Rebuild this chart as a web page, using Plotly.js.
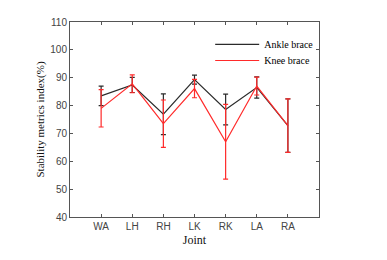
<!DOCTYPE html>
<html>
<head>
<meta charset="utf-8">
<script src="https://cdn.plot.ly/plotly-3.0.1.min.js"></script>
<style>html,body{margin:0;padding:0;background:#fff;}#chart{width:387px;height:260px;}</style>
</head>
<body>
<div id="chart"></div>
<script>
const joints = ["WA", "LH", "RH", "LK", "RK", "LA", "RA"];
const ankleMean = [83.5, 87.4, 76.9, 89.3, 78.6, 86.5, 72.8];
const ankleErr  = [3.5, 2.7, 7.3, 1.6, 5.5, 3.8, 9.6];
const kneeMean  = [79.0, 87.8, 73.5, 86.1, 67.0, 87.0, 72.8];
const kneeErr   = [6.7, 3.2, 8.5, 3.3, 13.4, 3.2, 9.6];
const yTicks = [40, 50, 60, 70, 80, 90, 100, 110];

const traces = [
  {
    x: joints, y: ankleMean, name: "Ankle brace", type: "scatter", mode: "lines", legend: "legend",
    line: {color: "#2b2b2b", width: 1.2},
    error_y: {type: "data", array: ankleErr, visible: true, color: "#2b2b2b", thickness: 1.2, width: 2.5}
  },
  {
    x: joints, y: kneeMean, name: "Knee brace", type: "scatter", mode: "lines", legend: "legend2",
    line: {color: "#ff2a2a", width: 1.2},
    error_y: {type: "data", array: kneeErr, visible: true, color: "#ff2a2a", thickness: 1.2, width: 2.5}
  }
];

const axisCommon = {
  showgrid: false, zeroline: false, showline: true, linecolor: "#555", linewidth: 1,
  mirror: "ticks", ticks: "inside", ticklen: 3, tickcolor: "#555", tickwidth: 1,
  tickfont: {family: "Liberation Sans, Arial, sans-serif", size: 10, color: "#444"}
};

const legendFont = {family: "Liberation Serif, Times New Roman, serif", size: 10, color: "#000"};

const layout = {
  width: 387, height: 260,
  margin: {l: 70, r: 68, t: 22, b: 43},
  paper_bgcolor: "#fff", plot_bgcolor: "#fff",
  showlegend: true,
  legend: {
    x: 0.563, y: 0.96, xanchor: "left", yanchor: "top",
    bgcolor: "rgba(0,0,0,0)", borderwidth: 0, itemwidth: 44, font: legendFont
  },
  legend2: {
    x: 0.563, y: 0.877, xanchor: "left", yanchor: "top",
    bgcolor: "rgba(0,0,0,0)", borderwidth: 0, itemwidth: 44, font: legendFont
  },
  xaxis: Object.assign({}, axisCommon, {
    type: "category", range: [-1, 7], tickvals: joints, ticktext: joints,
    title: {text: "Joint", standoff: 4, font: {family: "Liberation Serif, Times New Roman, serif", size: 12, color: "#111"}}
  }),
  yaxis: Object.assign({}, axisCommon, {
    range: [40, 110], tickvals: yTicks,
    title: {text: "Stability metrics index(%)", standoff: 3, font: {family: "Liberation Serif, Times New Roman, serif", size: 11, color: "#111"}}
  })
};

Plotly.newPlot("chart", traces, layout, {staticPlot: true, displayModeBar: false});
</script>
</body>
</html>
